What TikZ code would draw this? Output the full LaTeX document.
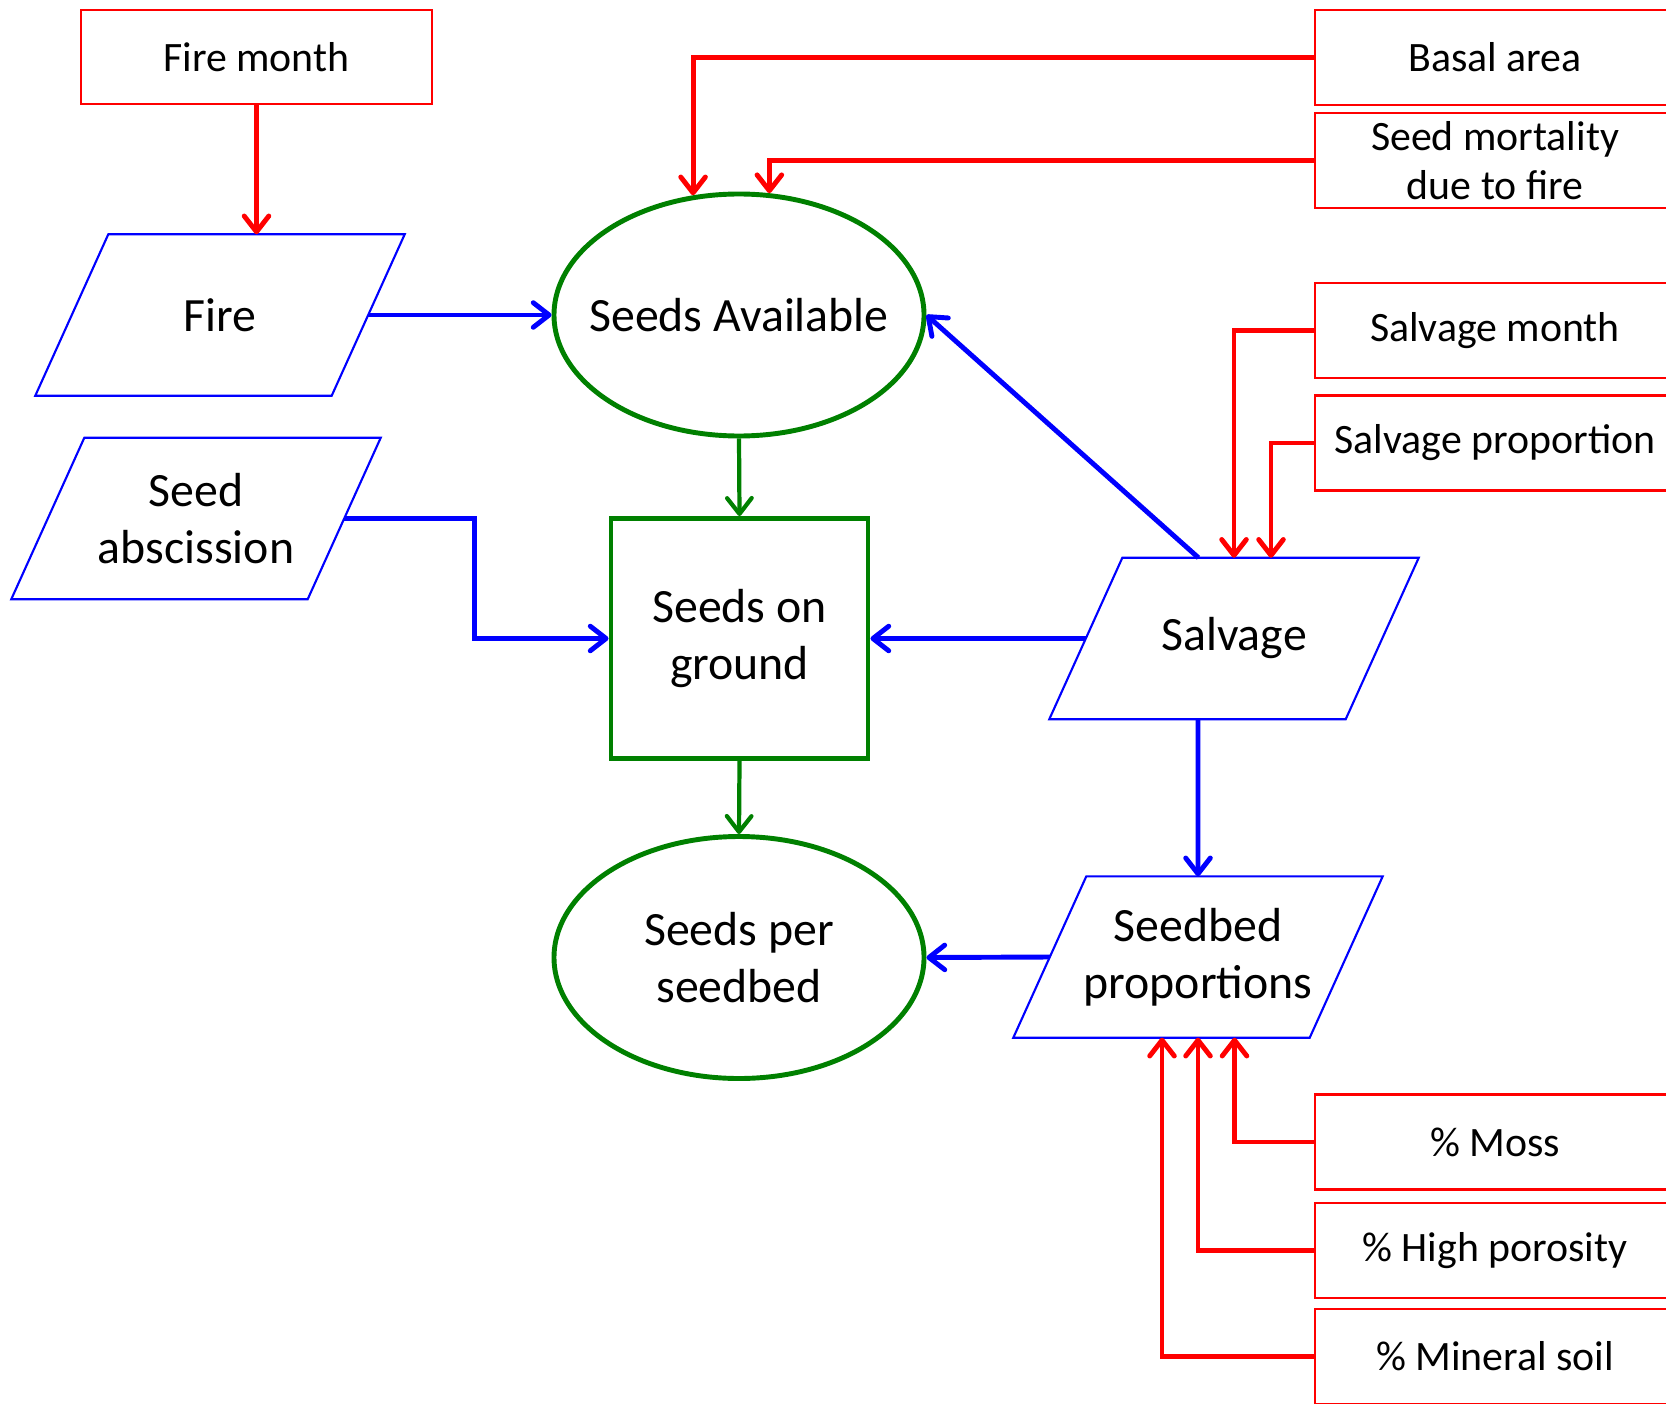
\documentclass[tikz,border=0pt]{standalone}
\usepackage{fontspec}
\setmainfont{Carlito}
\usetikzlibrary{shapes.geometric, arrows.meta}

\begin{document}
\begin{tikzpicture}[
    base/.style={align=center, inner sep=0pt, font=\fontsize{13.6}{16.3}\selectfont},
    inbox/.style={base, draw=red, line width=0.6pt, minimum width=3.6cm, minimum height=0.95cm, font=\fontsize{11.9}{14}\selectfont},
    databox/.style={base, minimum width=2.95cm, minimum height=1.6cm},
    poolell/.style={base, ellipse, draw=green!50!black, line width=1.4pt, inner xsep=-0.4cm, minimum width=3.7cm, minimum height=2.42cm},
    poolbox/.style={base, draw=green!50!black, line width=1.4pt, minimum width=2.57cm, minimum height=2.4cm},
    tip/.style={-{Straight Barb[length=4.5pt,width=7pt,round]}},
    redarrow/.style={tip, line width=1.4pt, draw=red},
    bluearrow/.style={tip, line width=1.4pt, draw=blue},
    greenarrow/.style={tip, line width=1.2pt, draw=green!50!black}
]
    \useasboundingbox (0,0) rectangle (16.66,-14.03);
    \clip (0,0) rectangle (16.66,-14.03);

    % --- Nodes ---
    % Pools
    \node[poolell] (sa) at (7.39,-3.15) {Seeds Available};
    \node[poolbox] (sog) at (7.395,-6.385) {Seeds on\\ground};
    \node[poolell] (spb) at (7.39,-9.575) {Seeds per\\seedbed};

    % Processes (outline drawn below)
    \node[databox] (fire) at (2.20,-3.15) {Fire};
    \node[databox] (absc) at (1.96,-5.185) {Seed\\abscission};
    \node[databox] (salv) at (12.34,-6.385) {Salvage};
    \node[databox] (sbed) at (11.98,-9.57) {Seedbed\\proportions};
    \foreach \n in {fire,absc,salv,sbed}
        \draw[blue, line width=0.6pt] ([xshift=3.65mm]\n.north west) -- ([xshift=3.65mm]\n.north east)
            -- ([xshift=-3.65mm]\n.south east) -- ([xshift=-3.65mm]\n.south west) -- cycle;

    % Inputs
    \node[inbox, minimum width=3.51cm, minimum height=0.94cm] (fm) at (2.565,-0.57) {Fire month};
    \node[inbox] (basal) at (14.95,-0.575) {Basal area};
    \node[inbox] (mort) at (14.95,-1.605) {Seed mortality\\due to fire};
    \node[inbox] (smonth) at (14.95,-3.305) {Salvage month};
    \node[inbox] (sprop) at (14.95,-4.43) {Salvage proportion};
    \node[inbox] (moss) at (14.95,-11.42) {\% Moss};
    \node[inbox] (hpor) at (14.95,-12.505) {\% High porosity};
    \node[inbox] (msoil) at (14.95,-13.565) {\% Mineral soil};

    % --- Edges ---
    \draw[redarrow] (fm.south) -- (fm.south |- fire.north);
    \draw[redarrow] (basal.west) -| (sa.111);
    \draw[redarrow] (mort.west) -| (sa.76);
    \draw[redarrow] (smonth.west) -| (salv.north);
    \draw[redarrow] (sprop.west) -| ([xshift=3.7mm]salv.north);
    \draw[redarrow] (moss.west) -| ([xshift=3.65mm]sbed.south);
    \draw[redarrow] (hpor.west) -| (sbed.south);
    \draw[redarrow] (msoil.west) -| ([xshift=-3.6mm]sbed.south);

    \draw[bluearrow] (fire.east) -- (sa.west);
    \draw[bluearrow] (absc.east) -| ([xshift=-1.34cm]sog.west) |- (sog.west);
    \draw[bluearrow] (salv.west) -- (sog.east);
    \draw[bluearrow] ([xshift=-3.55mm]salv.north) -- (sa.east);
    \draw[bluearrow] ([xshift=-3.6mm]salv.south) -- (sbed.north);
    \draw[bluearrow] (sbed.west) -- (spb.east);

    \draw[greenarrow] (sa.south) -- (sog.north);
    \draw[greenarrow] (sog.south) -- (spb.north);

\end{tikzpicture}
\end{document}
